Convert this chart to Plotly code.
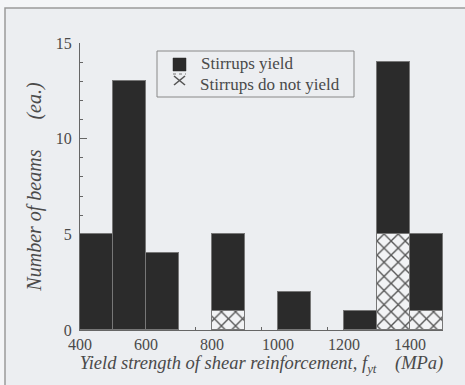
import plotly.graph_objects as go

# Data
bin_centers = [450, 550, 650, 850, 1050, 1250, 1350, 1450]
yield_counts = [5, 13, 4, 4, 2, 1, 9, 4]
not_yield_counts = [0, 0, 0, 1, 0, 0, 5, 1]
x_ticks = [400, 600, 800, 1000, 1200, 1400]
y_ticks = [0, 5, 10, 15]
legend_labels = ["Stirrups yield", "Stirrups do not yield"]

SERIF = "Liberation Serif, Times New Roman, serif"
TXT = "#4a4a4a"

fig = go.Figure()
fig.add_trace(go.Bar(
    x=bin_centers, y=not_yield_counts, width=100,
    name=legend_labels[1], showlegend=False,
    marker=dict(color="#f2f3f5", line=dict(color="#777777", width=1),
                pattern=dict(shape="x", size=10, solidity=0.25,
                             fgcolor="#555555", bgcolor="#f2f3f5", fillmode="replace")),
))
fig.add_trace(go.Bar(
    x=bin_centers, y=yield_counts, width=100,
    name=legend_labels[0], showlegend=False,
    marker=dict(color="#2b2b2b", line=dict(color="#777777", width=1)),
))

L, R, T, B = 80, 22, 43, 55
W, H = 465, 385
pw, ph = W - L - R, H - T - B

def px(xp):
    return (xp - L) / pw

def py(yp):
    return (H - B - yp) / ph

shapes = [
    # outer frame
    dict(type="rect", xref="paper", yref="paper",
         x0=px(5), x1=px(475), y0=py(395), y1=py(8),
         line=dict(color="#9a9a9a", width=1.5), fillcolor="#eceef1", layer="below"),
    # legend box
    dict(type="rect", xref="paper", yref="paper",
         x0=px(157), x1=px(354), y0=py(97), y1=py(51),
         line=dict(color="#888888", width=1), fillcolor="rgba(0,0,0,0)"),
    # legend swatch: solid
    dict(type="rect", xref="paper", yref="paper",
         x0=px(173), x1=px(186), y0=py(71), y1=py(58),
         line=dict(color="#2b2b2b", width=0.5), fillcolor="#2b2b2b"),
    # legend swatch: cross-hatch glyph
    dict(type="line", xref="paper", yref="paper",
         x0=px(174), x1=px(185), y0=py(76), y1=py(85),
         line=dict(color="#555555", width=1.6)),
    dict(type="line", xref="paper", yref="paper",
         x0=px(174), x1=px(185), y0=py(85), y1=py(76),
         line=dict(color="#555555", width=1.6)),
    dict(type="line", xref="paper", yref="paper",
         x0=px(173), x1=px(186), y0=py(74), y1=py(74),
         line=dict(color="#777777", width=1, dash="dot")),
]

annotations = [
    dict(text=legend_labels[0], xref="paper", yref="paper", x=px(200), y=py(64),
         xanchor="left", yanchor="middle", showarrow=False, borderpad=0,
         font=dict(family=SERIF, size=17, color=TXT)),
    dict(text=legend_labels[1], xref="paper", yref="paper", x=px(199), y=py(84),
         xanchor="left", yanchor="middle", showarrow=False, borderpad=0,
         font=dict(family=SERIF, size=17, color=TXT)),
]

fig.update_layout(
    width=W, height=H,
    margin=dict(l=L, r=R, t=T, b=B),
    barmode="stack", bargap=0,
    paper_bgcolor="#f4f5f7", plot_bgcolor="rgba(0,0,0,0)",
    font=dict(family=SERIF, color=TXT, size=16),
    showlegend=False,
    shapes=shapes, annotations=annotations,
)
fig.update_xaxes(
    range=[400, 1500], tickvals=x_ticks, ticktext=[str(v) for v in x_ticks],
    showline=True, linecolor="#666666", linewidth=1,
    ticks="inside", ticklen=6, tickcolor="#666666",
    minor=dict(tick0=50, dtick=100, ticks="inside", ticklen=3, tickcolor="#666666"),
    showgrid=False, zeroline=False, layer="below traces", automargin=False,
    tickfont=dict(family=SERIF, size=16, color=TXT),
    title=dict(text="Yield strength of shear reinforcement, <i>f</i><sub>yt</sub>\u00a0\u00a0\u00a0\u00a0(MPa)",
               font=dict(family=SERIF, size=18.5, color=TXT, style="italic"), standoff=2),
)
fig.update_yaxes(
    range=[0, 15], tickvals=y_ticks,
    showline=True, linecolor="#666666", linewidth=1,
    ticks="inside", ticklen=7, tickcolor="#666666",
    minor=dict(dtick=1, ticks="inside", ticklen=3, tickcolor="#666666"),
    showgrid=False, zeroline=False, layer="below traces", automargin=False,
    tickfont=dict(family=SERIF, size=16, color=TXT),
    ticklabelstandoff=4,
    title=dict(text="Number of beams\u00a0\u00a0\u00a0\u00a0\u00a0\u00a0(ea.)",
               font=dict(family=SERIF, size=20, color=TXT, style="italic"), standoff=8),
)

fig.write_html("out.html", config={"displayModeBar": False},
               post_script="document.body.style.margin='0';")
